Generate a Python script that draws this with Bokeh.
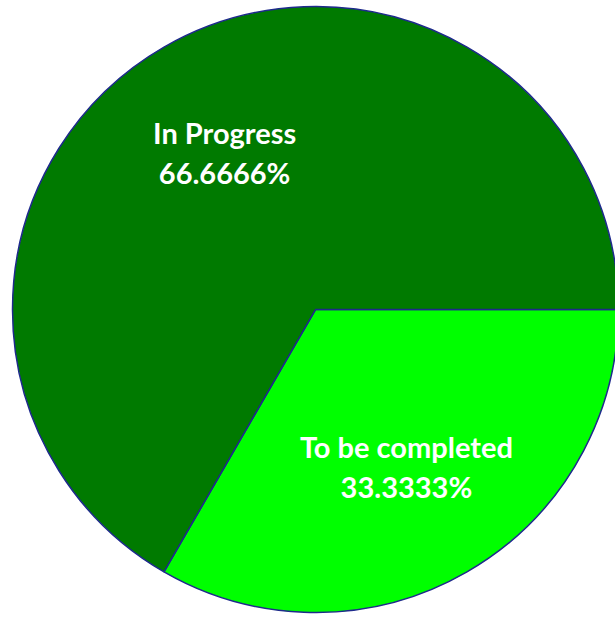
import math
from bokeh.plotting import figure
from bokeh.models import ColumnDataSource, Range1d
from bokeh.core.properties import value
from bokeh.embed import file_html
from bokeh.resources import INLINE

categories = ["In Progress", "To be completed"]
values = [66.6666, 33.3333]
pct_labels = ["66.6666%", "33.3333%"]
colors = ["#007A00", "#00FF00"]

W, H = 615, 618
cx, cy, r = 315, H - 309, 303

# Slices go clockwise from 3 o'clock, last category first (To be completed at 0 -> -120 deg)
total = sum(values)
starts, ends, lx, ly, names, pcts, cols = [], [], [], [], [], [], []
angle = 0.0
for cat, v, lab, col in zip(reversed(categories), reversed(values), reversed(pct_labels), reversed(colors)):
    sweep = 2 * math.pi * v / total
    s, e = angle - sweep, angle
    starts.append(s)
    ends.append(e)
    mid = (s + e) / 2
    lx.append(cx + 0.6 * r * math.cos(mid))
    ly.append(cy + 0.6 * r * math.sin(mid))
    names.append(cat)
    pcts.append(lab)
    cols.append(col)
    angle -= sweep

src = ColumnDataSource(dict(start=starts, end=ends, color=cols,
                            lx=lx, ly=ly, name=names, pct=pcts))

p = figure(width=W, height=H, x_range=Range1d(0, W), y_range=Range1d(0, H),
           output_backend="svg", toolbar_location=None, min_border=0)
p.axis.visible = False
p.grid.visible = False
p.outline_line_color = None
p.background_fill_color = "white"

p.wedge(x=cx, y=cy, radius=r, start_angle="start", end_angle="end", source=src,
        fill_color="color", line_color="#1E2A8C", line_width=1.5)

common = dict(source=src, text_color="white", text_font=value("Lato"),
              text_font_style="bold", text_font_size="29px",
              text_align="center", text_baseline="middle")
p.text(x="lx", y="ly", text="name", y_offset=-20, **common)
p.text(x="lx", y="ly", text="pct", y_offset=20, **common)

open("out.html", "w").write(file_html(p, INLINE))
